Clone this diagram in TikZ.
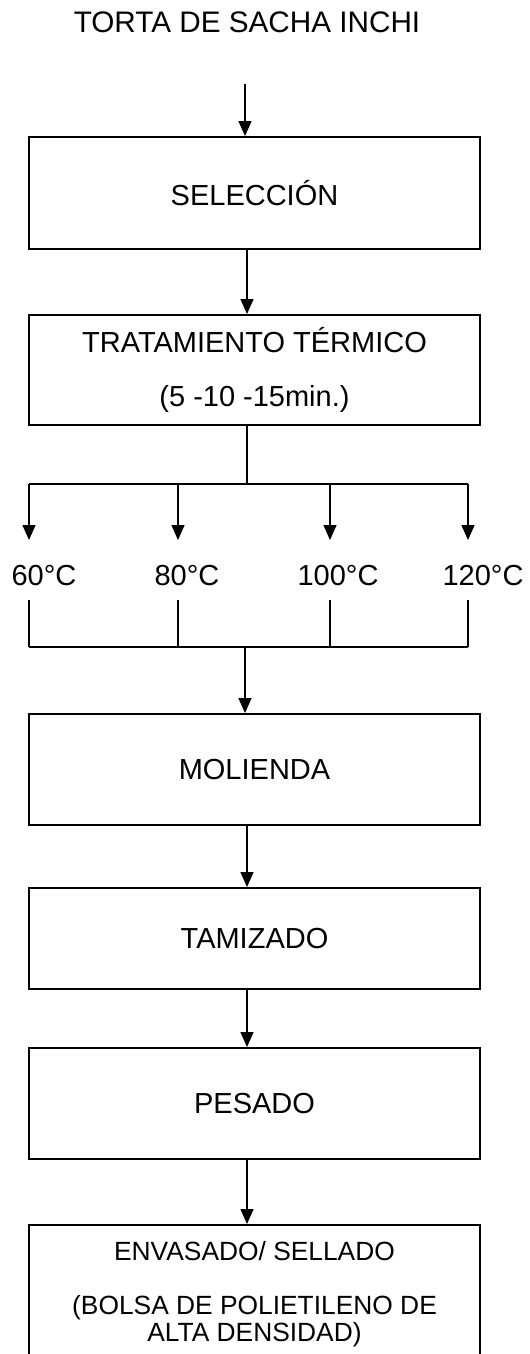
\documentclass[tikz,border=0pt]{standalone}
\usepackage{fontspec}
\setmainfont{Liberation Sans}
\usetikzlibrary{arrows.meta}

\begin{document}
\begin{tikzpicture}[x=0.02cm, y=-0.02cm,
    box/.style={draw, line width=1.1pt, minimum width=9.02cm, inner sep=0pt,
        font=\fontsize{16.5}{20}\selectfont},
    lbl/.style={font=\fontsize{16.5}{20}\selectfont},
    flow/.style={line width=0.8pt},
    arr/.style={flow, -{Triangle[length=0.3cm, width=0.26cm]}}]
    % Canvas
    \clip (0,0) rectangle (529,1354);

    % Title
    \node[lbl, font=\fontsize{16.9}{20}\selectfont] (title) at (247,22) {TORTA DE SACHA INCHI};

    % Draw process boxes
    \node[box, minimum height=2.24cm] (sel) at (254.5,193) {SELECCIÓN};
    \node[box, minimum height=2.2cm, align=center,
        font=\fontsize{16.5}{31}\selectfont] (treat) at (254.5,370)
        {TRATAMIENTO TÉRMICO\\(5 -10 -15min.)};
    \node[box, minimum height=2.22cm] (mol) at (254.5,769.5) {MOLIENDA};
    \node[box, minimum height=2.02cm] (tam) at (254.5,938.5) {TAMIZADO};
    \node[box, minimum height=2.22cm] (pes) at (254.5,1103.5) {PESADO};
    \node[box, minimum height=2.76cm, anchor=north, align=center,
        font=\fontsize{15}{15}\selectfont] (env) at (254.5,1224)
        {ENVASADO/ SELLADO\\[16pt](BOLSA DE POLIETILENO DE\\ALTA DENSIDAD)};

    % Draw main arrows
    \coordinate (spine) at (247,0);
    \coordinate (top) at (245,84);
    \draw[arr] (top) -- (top |- sel.north);
    \draw[arr] (sel.south -| spine) -- (treat.north -| spine);
    \draw[arr] (mol.south -| spine) -- (tam.north -| spine);
    \draw[arr] (tam.south -| spine) -- (pes.north -| spine);
    \draw[arr] (pes.south -| spine) -- (env.north -| spine);

    % Draw temperature branches
    \coordinate (split) at (247,484);
    \coordinate (join) at (245,647);
    \draw[flow] (treat.south -| split) -- (split);
    \draw[flow] (29,484) -- (468,484);
    \foreach \x/\t/\lx in {29/60/44, 178/80/187, 330/100/338, 468/120/483} {
        \draw[arr] (\x,484) -- (\x,540);
        \node[lbl] (t\t) at (\lx,576) {\t°C};
        \draw[flow] (\x,600) -- (\x,647);
    }
    \draw[flow] (29,647) -- (468,647);
    \draw[arr] (join) -- (join |- mol.north);
\end{tikzpicture}
\end{document}
